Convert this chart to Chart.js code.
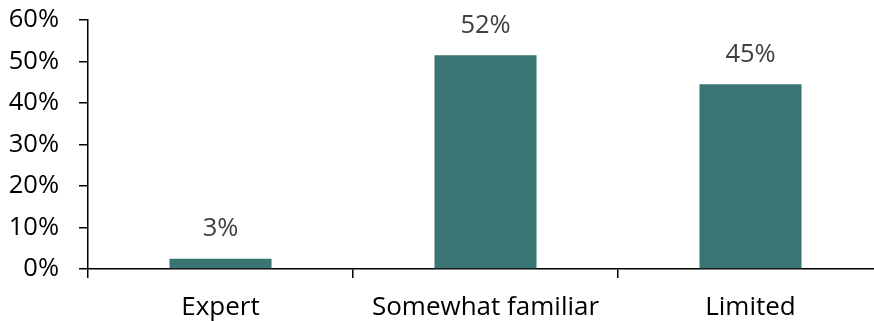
<!DOCTYPE html>
<html>
<head>
<meta charset="utf-8">
<script src="https://cdn.jsdelivr.net/npm/chart.js@4"></script>
<style>
html,body{margin:0;padding:0;background:#fff;overflow:hidden;}
#wrap{width:883px;height:321px;}
</style>
</head>
<body>
<div id="wrap"><canvas id="c" width="883" height="321"></canvas></div>
<script>
const categories = ["Expert", "Somewhat familiar", "Limited"];
const values = [2.5, 51.5, 44.5];
const valueLabels = ["3%", "52%", "45%"];
const yTicks = [0, 10, 20, 30, 40, 50, 60];

const FONT = "'Open Sans', sans-serif";

const valueLabelPlugin = {
  id: 'valueLabels',
  afterDatasetsDraw(chart) {
    const ctx = chart.ctx;
    const meta = chart.getDatasetMeta(0);
    ctx.save();
    ctx.font = "25.5px " + FONT;
    ctx.fillStyle = "#404040";
    ctx.textAlign = "center";
    ctx.textBaseline = "middle";
    meta.data.forEach((bar, i) => {
      ctx.fillText(valueLabels[i], bar.x, bar.y - 30);
    });
    ctx.restore();
  }
};

new Chart(document.getElementById('c'), {
  type: 'bar',
  data: {
    labels: categories,
    datasets: [{
      data: values,
      backgroundColor: '#3a7573',
      categoryPercentage: 1,
      barPercentage: 0.385
    }]
  },
  options: {
    responsive: false,
    animation: false,
    devicePixelRatio: 1,
    layout: { padding: { top: 20, right: 0, left: 0, bottom: 0 } },
    plugins: { legend: { display: false }, tooltip: { enabled: false } },
    scales: {
      x: {
        grid: { offset: true, drawOnChartArea: false, drawTicks: true, tickLength: 9, color: '#000', lineWidth: 1.5 },
        border: { color: '#000', width: 1.5 },
        ticks: { font: { size: 26, family: FONT }, color: '#000', padding: 14, maxRotation: 0, autoSkip: false },
        afterFit(s) { s.height = 52; s.paddingLeft = 0; s.paddingRight = 0; }
      },
      y: {
        min: 0, max: 60,
        afterBuildTicks(s) { s.ticks = yTicks.map(v => ({ value: v })); },
        grid: { drawOnChartArea: false, drawTicks: true, tickLength: 9, color: '#000', lineWidth: 1.5 },
        border: { color: '#000', width: 1.5 },
        ticks: { font: { size: 25.5, family: FONT }, color: '#000', padding: 20, callback: v => v + '%' },
        afterFit(s) { s.width = 88; s.paddingTop = 0; s.paddingBottom = 0; }
      }
    }
  },
  plugins: [valueLabelPlugin]
});
</script>
</body>
</html>
